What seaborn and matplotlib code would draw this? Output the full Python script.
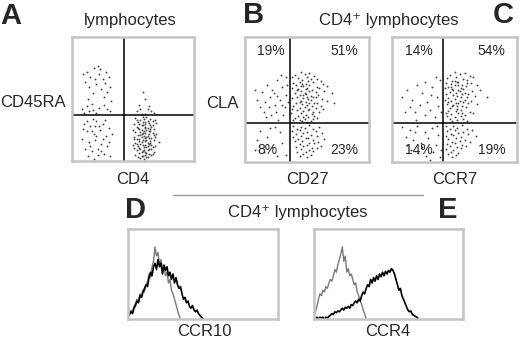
import matplotlib
matplotlib.use("Agg")
import matplotlib.pyplot as plt
import seaborn as sns
import pandas as pd

sns.set_style("white")
plt.rcParams['font.family'] = ['Liberation Sans', 'DejaVu Sans']

# ---------------- data (% of plot range) ----------------
# Panel A: CD4 (x) vs CD45RA (y)
a_upper_left = [(12,72),(15,68),(18,75),(22,70),(25,66),(28,72),(30,68),(20,62),(14,60),(24,58),
                (27,63),(17,55),(11,64),(31,60),(21,77),(26,52),(9,70),(19,66),(23,74),(29,56),
                (13,50),(16,46),(32,48),(8,42),(12,44),(17,41),(22,43),(26,45),(29,42),(14,40),
                (20,39),(31,40),(10,39)]
a_lower_left = [(10,30),(15,28),(20,32),(25,30),(30,27),(12,24),(18,22),(23,25),(28,20),(8,18),
                (14,15),(19,17),(24,14),(29,12),(11,10),(16,8),(21,10),(26,6),(31,4),(13,4),
                (18,2),(22,28),(27,33),(17,34),(9,26),(33,22),(20,20),(15,12),(25,18),(21,5),
                (12,32),(30,15),(24,8),(16,24),(19,28)]
a_upper_right = [(58,56),(60,50),(55,45),(62,42),(65,40),(53,40),(57,38),(67,39),(60,38),(63,44),(56,42)]
a_lower_right = [(52,34.5),(56,33.1),(61,35.2),(66,32.4),(54,31.8),(59,33.9),(63,30.6),(68,32.9),(51,30.2),
                 (57,29.4),(60,31.5),(64,28.7),(69,30.9),(53,27.6),(58,28.9),(62,26.8),(66,29.3),(55,25.9),
                 (60,27.1),(63,24.3),(67,26.2),(50,24.8),(52,23.1),(57,25.4),(60,22.6),(64,23.8),(69,21.9),
                 (54,21.2),(58,22.9),(62,20.4),(66,22.3),(51,19.7),(56,20.6),(60,18.5),(63,21.4),(68,19.2),
                 (53,17.9),(59,19.8),(61,16.7),(65,18.4),(55,15.8),(58,17.2),(62,14.6),(67,16.9),(71,15.1),
                 (52,14.3),(57,15.5),(60,13.2),(64,14.9),(54,12.4),(59,11.6),(63,13.8),(66,11.1),(50,12.9),
                 (51,10.2),(56,9.7),(61,10.9),(65,9.3),(68,12.2),(53,8.6),(58,7.9),(62,8.8),(55,6.4),
                 (60,6.9),(63,5.6),(67,7.3),(52,5.1),(57,4.2),(61,3.6),(65,4.8),(56,2.3),(59,1.7),(62,2.9),
                 (54,3.1),(58,35.6),(64,34.1),(55,29.8),(61,24.9),(57,19.1),(64,16.2),(59,9.2),(53,14.1),
                 (66,5.9),(60,26.3),(62,31.9),(58,12.7),(56,23.7),(63,18.9),(65,27.5),(51,17.4),(67,20.7),
                 (60,4.9),(54,26.6),(61,6.2),(58,31.1),(63,9.9),(55,18.1),(60,15.9),(57,21.7),(62,11.8),
                 (59,24.1),(56,13.6),(64,25.6),(53,32.7),(65,13.3),(58,3.8),(61,19.4),(55,10.8),(60,29.7),
                 (57,7.1)]

# Panel B: CD27 (x) vs CLA (y)
b_upper_left = [(10,50),(14,56),(18,62),(22,58),(26,66),(30,60),(33,54),(12,44),(16,48),(20,52),
                (24,46),(28,50),(32,44),(34,62),(29,70),(25,40),(21,38),(17,36),(27,34),(31,38),
                (35,48),(23,55),(19,44),(15,40),(8,58),(33,68),(26,53),(30,46)]
b_upper_right = [(45,72.3),(52,71.1),(40,69.6),(48,70.4),(56,68.8),(43,67.2),(50,68.1),(58,66.7),(38,67.9),
                 (46,65.4),(53,66.3),(61,64.9),(39,63.6),(44,64.2),(49,62.8),(55,63.9),(63,62.1),(41,61.3),
                 (47,60.5),(52,61.9),(58,59.7),(66,61.2),(38,59.1),(43,58.4),(50,59.6),(54,57.6),(60,58.9),
                 (45,56.8),(48,55.3),(52,57.2),(57,55.9),(64,56.6),(40,55.1),(44,53.7),(49,54.5),(53,52.9),
                 (59,53.8),(70,55.4),(42,52.1),(47,51.4),(51,50.6),(55,51.7),(62,50.3),(38,50.9),(45,49.2),
                 (49,48.1),(53,49.7),(58,47.6),(66,48.8),(41,47.3),(46,46.5),(50,45.8),(56,46.9),(61,44.7),
                 (39,45.1),(44,43.6),(48,44.2),(52,42.8),(57,43.5),(72,47.2),(42,41.9),(47,40.6),(51,41.3),
                 (55,39.8),(63,42.4),(38,42.7),(45,38.9),(49,37.7),(54,38.4),(60,40.1),(37,39.6),(43,36.8),
                 (47,35.9),(51,36.4),(56,37.1),(40,35.2),(44,33.8),(48,34.4),(53,33.1),(58,35.6),(39,33.5),
                 (46,32.6),(50,32.2),(55,34.7),(42,57.3),(51,64.6),(46,62.2),(57,52.3),(44,47.8),(49,58.1),
                 (54,44.9),(47,53.3),(52,47.2),(45,60.8),(50,51.9)]
b_lower_left = [(12,25),(18,20),(24,28),(30,15),(8,10),(15,8),(22,12),(28,24),(33,6),(20,27),(10,18),(26,5)]
b_lower_right = [(39,29.1),(45,28.4),(52,29.6),(42,26.7),(48,27.5),(55,26.2),(60,27.8),(38,24.6),(44,25.3),
                 (50,23.9),(57,24.8),(41,22.5),(47,23.2),(53,21.7),(62,22.9),(39,20.4),(45,21.1),(51,19.6),
                 (58,20.8),(43,18.2),(49,19.3),(55,17.4),(64,18.7),(40,16.6),(46,17.1),(52,15.2),(59,16.4),
                 (44,14.5),(50,13.7),(56,14.9),(41,12.3),(47,12.8),(54,11.4),(61,12.6),(45,10.2),(52,9.5),
                 (58,10.9),(42,8.4),(49,7.7),(55,8.8),(47,6.3),(53,5.6),(44,4.7),(50,4.1)]

# Panel C: CCR7 (x) vs CLA (y)
c_upper_left = [(8,52),(12,58),(16,50),(20,62),(24,55),(28,48),(32,60),(36,52),(38,66),(14,44),
                (18,40),(22,46),(26,38),(30,42),(34,36),(37,45),(10,40),(26,64),(31,54),(35,68),
                (19,34),(39,40)]
c_upper_right = [(50,72.4),(58,71.2),(46,69.7),(54,70.5),(62,68.9),(44,67.3),(51,68.2),(57,66.6),(65,67.8),
                 (48,65.1),(53,64.4),(60,65.7),(43,63.2),(47,62.5),(52,63.8),(56,61.7),(63,62.9),(45,60.4),
                 (50,61.3),(55,59.6),(59,60.8),(68,61.6),(42,59.2),(48,58.5),(53,57.4),(57,58.7),(64,57.1),
                 (46,56.3),(51,55.6),(54,56.9),(61,54.8),(70,57.9),(43,54.2),(49,53.5),(52,52.7),(56,54.1),
                 (60,52.3),(45,51.6),(50,50.8),(55,51.9),(58,49.6),(66,52.8),(42,49.4),(47,48.7),(51,47.5),
                 (57,48.2),(63,49.1),(76,51.7),(44,46.4),(49,45.8),(53,46.9),(56,44.6),(61,47.2),(46,43.1),
                 (48,44.5),(52,42.3),(59,43.7),(68,46.3),(45,41.2),(51,40.6),(55,41.8),(62,40.3),(43,39.5),
                 (47,38.7),(53,39.1),(58,37.9),(44,36.6),(50,35.8),(55,36.9),(65,39.6),(46,34.2),(52,33.5),
                 (57,34.8),(48,32.7),(60,33.2),(49,57.6),(54,49.1),(47,59.8),(58,55.3),(52,45.1),(50,64.9),
                 (56,39.4),(60,63.1),(45,47.7),(53,61.4)]
c_lower_left = [(8,28),(14,26),(20,29),(26,24),(32,27),(37,22),(11,20),(17,18),(23,15),(29,19),
                (35,14),(39,10),(15,10),(21,7),(27,5),(33,8),(38,4),(24,12),(30,2),(12,14),(36,29),(18,24)]
c_lower_right = [(43,29.2),(49,28.6),(56,29.7),(46,26.8),(52,27.4),(60,26.1),(44,24.5),(50,25.3),(57,24.1),
                 (64,25.8),(47,22.6),(53,23.3),(61,22.1),(43,20.7),(49,21.4),(55,19.8),(67,20.9),(45,18.3),
                 (51,19.1),(58,17.6),(48,16.4),(54,17.2),(62,15.9),(44,14.6),(50,15.3),(56,13.8),(46,12.5),
                 (52,11.7),(59,12.9),(43,10.4),(49,9.8),(55,11.1),(47,8.2),(53,7.6),(45,6.3),(51,5.7),(48,4.4)]

# quadrant gate positions (% of range) and quadrant percentages
a_gate = (43, 37)
b_gate = (36, 31)
c_gate = (41, 31)
b_pct = ["19%", "51%", "8%", "23%"]
c_pct = ["14%", "54%", "14%", "19%"]

# Panel D: CCR10 histograms (height % of box per channel)
d_gray = [3,6,10,8,14,18,22,20,28,25,32,30,38,42,50,46,58,64,80,70,74,60,66,55,58,48,52,40,44,32,
          28,22,16,10,4,0]
d_black = [2,5,8,6,12,15,20,18,26,24,30,34,38,36,46,52,48,58,62,55,66,58,62,50,60,54,58,48,52,44,
           50,40,46,38,34,36,28,22,24,18,20,14,12,15,10,8,10,6,4,2,0]
# Panel E: CCR4 histograms
e_gray = [2,8,14,22,28,26,32,30,36,34,40,44,42,48,55,52,60,66,72,80,64,70,52,56,48,50,44,38,40,30,
          26,20,16,10,6,0]
e_black = [2,0,2,0,2,1,2,0,2,1,3,4,6,5,8,7,9,8,10,12,10,13,12,14,12,16,15,18,20,18,22,20,26,30,28,
           34,38,36,44,40,46,42,48,44,50,47,52,48,53,50,54,52,56,54,50,44,38,32,34,26,22,18,14,10,8,
           9,5,4,3,2,0]

# ---------------- helpers ----------------
def cells_df(*groups):
    pts = []
    for g in groups:
        pts.extend(g)
    return pd.DataFrame(pts, columns=["x", "y"])

W, H = 520, 341
fig = plt.figure(figsize=(W / 100, H / 100), dpi=100)
fig.patch.set_facecolor("white")

def box(x0, y0, x1, y1):
    return fig.add_axes([x0 / W, 1 - y1 / H, (x1 - x0) / W, (y1 - y0) / H])

def style_frame(ax):
    ax.set_xlim(0, 100)
    ax.set_ylim(0, 100)
    ax.set_xticks([])
    ax.set_yticks([])
    ax.set_xlabel("")
    ax.set_ylabel("")
    for s in ax.spines.values():
        s.set_visible(True)
        s.set_color("#c4c4c4")
        s.set_linewidth(1.8)

def ftext(x, y, s, size=12, weight="normal", ha="center", va="center"):
    fig.text(x / W, 1 - y / H, s, fontsize=size, fontweight=weight, ha=ha, va=va)

def scatter_panel(ax, df, gate, pct=None):
    sns.scatterplot(data=df, x="x", y="y", ax=ax, s=1.8, color="#444444", linewidth=0, legend=False)
    ax.axvline(gate[0], color="black", lw=1.1)
    ax.axhline(gate[1], color="black", lw=1.1)
    style_frame(ax)
    if pct:
        kw = dict(fontsize=10, transform=ax.transAxes, va="center")
        ax.text(0.10, 0.89, pct[0], ha="left", **kw)
        ax.text(0.91, 0.89, pct[1], ha="right", **kw)
        ax.text(0.10, 0.10, pct[2], ha="left", **kw)
        ax.text(0.91, 0.10, pct[3], ha="right", **kw)

# ---------------- scatter panels ----------------
axA = box(72, 37, 194, 161)
scatter_panel(axA, cells_df(a_upper_left, a_lower_left, a_upper_right, a_lower_right), a_gate)

axB = box(245, 37, 369, 162)
scatter_panel(axB, cells_df(b_upper_left, b_upper_right, b_lower_left, b_lower_right), b_gate, b_pct)

axC = box(392, 37, 517, 162)
scatter_panel(axC, cells_df(c_upper_left, c_upper_right, c_lower_left, c_lower_right), c_gate, c_pct)

# ---------------- histogram panels ----------------
def hist_panel(ax, gray, black):
    sns.lineplot(x=list(range(len(gray))), y=gray, ax=ax, color="#7a7a7a", lw=1.0)
    sns.lineplot(x=list(range(len(black))), y=black, ax=ax, color="black", lw=1.2)
    style_frame(ax)

axD = box(128, 229, 278, 319)
hist_panel(axD, d_gray, d_black)
axE = box(314, 229, 463, 319)
hist_panel(axE, e_gray, e_black)

# ---------------- texts ----------------
ftext(0, 16, "A", size=21, weight="bold", ha="left")
ftext(243, 15, "B", size=21, weight="bold", ha="left")
ftext(493, 15, "C", size=21, weight="bold", ha="left")
ftext(125, 210, "D", size=21, weight="bold", ha="left")
ftext(438, 210, "E", size=21, weight="bold", ha="left")

ftext(130, 20, "lymphocytes")
ftext(389, 20, "CD4\u207a lymphocytes")
ftext(298, 213, "CD4\u207a lymphocytes")

ftext(0, 103, "CD45RA", ha="left")
ftext(133, 179, "CD4")
ftext(222, 104, "CLA")
ftext(307, 179, "CD27")
ftext(455, 179, "CCR7")
ftext(204, 331, "CCR10")
ftext(388, 332, "CCR4")

fig.add_artist(plt.Line2D([173 / W, 423 / W], [1 - 195 / H, 1 - 195 / H], color="#9a9a9a", lw=1.0))

fig.savefig("out.png", dpi=100, facecolor="white")
